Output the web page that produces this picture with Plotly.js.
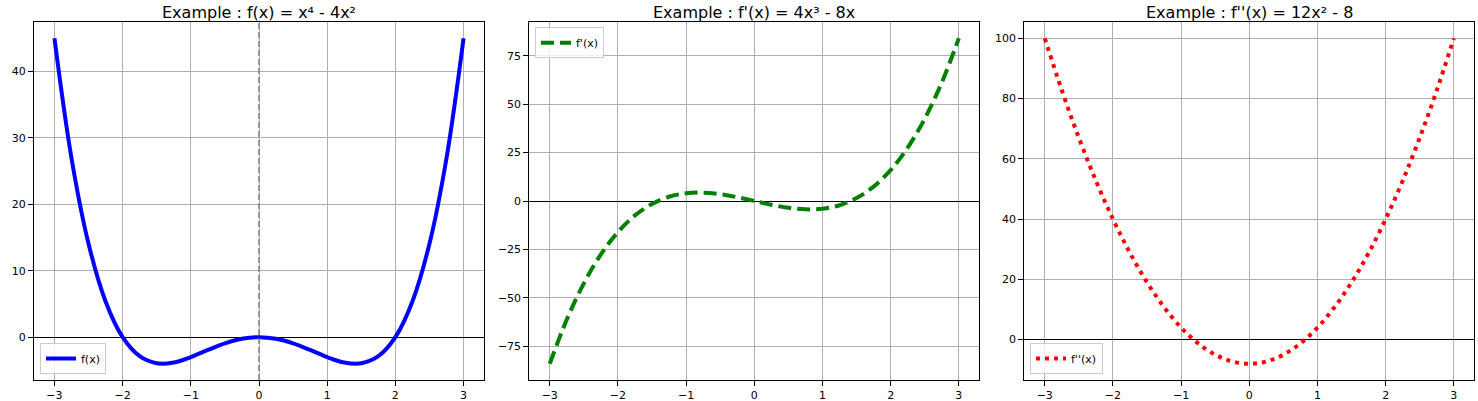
<!DOCTYPE html>
<html>
<head>
<meta charset="utf-8">
<script src="https://cdn.plot.ly/plotly-3.0.1.min.js"></script>
<style>html,body{margin:0;padding:0;background:#fff;}#chart{width:1478px;height:401px;}</style>
</head>
<body>
<div id="chart"></div>
<script>
// x sample positions (step 0.25)
const xValues = [-3, -2.75, -2.5, -2.25, -2, -1.75, -1.5, -1.25, -1, -0.75, -0.5, -0.25, 0,
                 0.25, 0.5, 0.75, 1, 1.25, 1.5, 1.75, 2, 2.25, 2.5, 2.75, 3];
// f(x) values
const fValues = [45, 26.94, 14.06, 5.38, 0, -2.87, -3.94, -3.81, -3, -1.93, -0.94, -0.25, 0,
                 -0.25, -0.94, -1.93, -3, -3.81, -3.94, -2.87, 0, 5.38, 14.06, 26.94, 45];
// f'(x) values
const f1Values = [-84, -61.19, -42.5, -27.56, -16, -7.44, -1.5, 2.19, 4, 4.31, 3.5, 1.94, 0,
                  -1.94, -3.5, -4.31, -4, -2.19, 1.5, 7.44, 16, 27.56, 42.5, 61.19, 84];
// f''(x) values
const f2Values = [100, 82.75, 67, 52.75, 40, 28.75, 19, 10.75, 4, -1.25, -5, -7.25, -8,
                  -7.25, -5, -1.25, 4, 10.75, 19, 28.75, 40, 52.75, 67, 82.75, 100];
const titles = ["Example : f(x) = x⁴ - 4x²", "Example : f'(x) = 4x³ - 8x", "Example : f''(x) = 12x² - 8"];
const names = ["f(x)", "f'(x)", "f''(x)"];
const xTicks = [-3, -2, -1, 0, 1, 2, 3];

const W = 1478, H = 401;
const font = {family: "DejaVu Sans, sans-serif", size: 11, color: "#000"};
const doms = [[34, 484], [529.3, 979.3], [1024.3, 1474.3]].map(d => [d[0] / W, d[1] / W]);
const yDom = [1 - 380 / H, 1 - 22 / H];

const traces = [
  {x: xValues, y: fValues, name: names[0], xaxis: "x", yaxis: "y", legend: "legend",
   mode: "lines", line: {color: "blue", width: 4, shape: "spline"}},
  {x: xValues, y: f1Values, name: names[1], xaxis: "x2", yaxis: "y2", legend: "legend2",
   mode: "lines", line: {color: "green", width: 4, dash: "13px,6px", shape: "spline"}},
  {x: xValues, y: f2Values, name: names[2], xaxis: "x3", yaxis: "y3", legend: "legend3",
   mode: "lines", line: {color: "red", width: 4, dash: "4px,5px", shape: "spline"}}
];

function xa(i) {
  return {domain: doms[i], range: [-3.3, 3.3], tickvals: xTicks, anchor: i === 0 ? "y" : "y" + (i + 1),
    showgrid: true, gridcolor: "#b0b0b0", gridwidth: 1, zeroline: false,
    showline: true, mirror: true, linecolor: "#000", linewidth: 1,
    ticks: "outside", ticklen: 5, tickcolor: "#000", tickfont: font};
}
function ya(i, range, dtick) {
  return {domain: yDom, range: range, dtick: dtick, anchor: i === 0 ? "x" : "x" + (i + 1),
    showgrid: true, gridcolor: "#b0b0b0", gridwidth: 1,
    zeroline: true, zerolinecolor: "#000", zerolinewidth: 1,
    showline: true, mirror: true, linecolor: "#000", linewidth: 1,
    ticks: "outside", ticklen: 5, tickcolor: "#000", tickfont: font};
}
const legendBase = {bgcolor: "rgba(255,255,255,0.8)", bordercolor: "#cccccc", borderwidth: 1,
  font: font, xanchor: "left", itemwidth: 30};

const layout = {
  width: W, height: H, margin: {l: 0, r: 0, t: 0, b: 0},
  paper_bgcolor: "#fff", plot_bgcolor: "#fff", showlegend: true,
  xaxis: xa(0), xaxis2: xa(1), xaxis3: xa(2),
  yaxis: ya(0, [-6.45, 47.45], 10), yaxis2: ya(1, [-92.4, 92.4], 25), yaxis3: ya(2, [-13.4, 105.4], 20),
  legend: Object.assign({}, legendBase, {x: 40 / W, y: 1 - 374 / H, yanchor: "bottom"}),
  legend2: Object.assign({}, legendBase, {x: 535 / W, y: 1 - 27.3 / H, yanchor: "top"}),
  legend3: Object.assign({}, legendBase, {x: 1030 / W, y: 1 - 374 / H, yanchor: "bottom"}),
  shapes: [{type: "line", xref: "x", yref: "y domain", x0: 0, x1: 0, y0: 0, y1: 1,
    line: {color: "gray", width: 1.5, dash: "6px,3px"}, layer: "above"}],
  annotations: titles.map((t, i) => ({text: t, xref: "paper", yref: "paper",
    x: (doms[i][0] + doms[i][1]) / 2, y: 1 - 12 / H, xanchor: "center", yanchor: "middle",
    showarrow: false, font: {family: "DejaVu Sans, sans-serif", size: 16, color: "#000"}}))
};

Plotly.newPlot("chart", traces, layout, {displayModeBar: false, staticPlot: true});
</script>
</body>
</html>
